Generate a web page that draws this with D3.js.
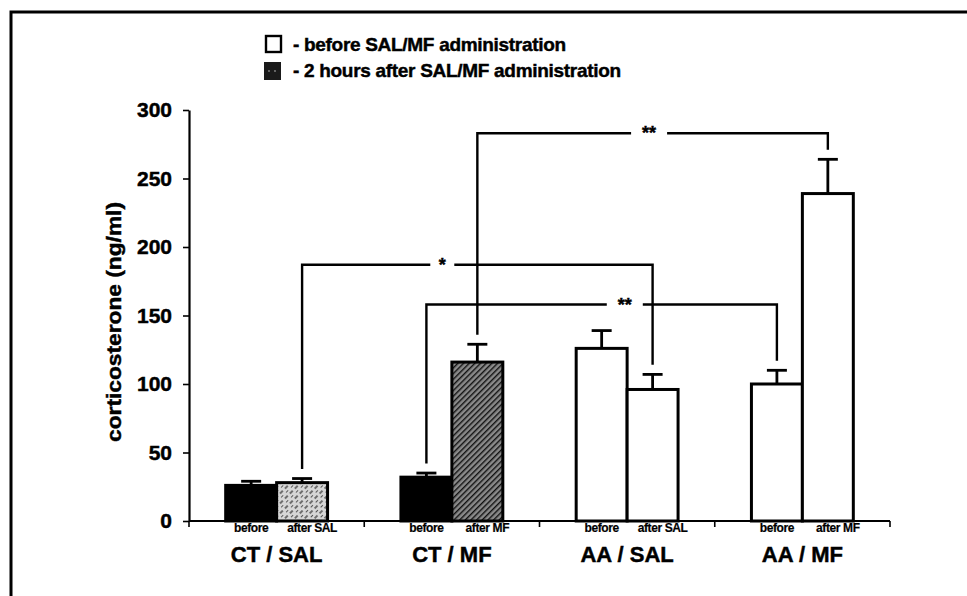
<!DOCTYPE html>
<html>
<head>
<meta charset="utf-8">
<script src="https://cdn.jsdelivr.net/npm/d3@7"></script>
<style>
body { margin: 0; background: #fff; }
svg { display: block; font-family: 'Liberation Sans', Arial, sans-serif; font-weight: bold; }
svg text { stroke: #000; stroke-width: 0.45px; }
</style>
</head>
<body>
<script>
// data
const GROUPS = ['CT / SAL', 'CT / MF', 'AA / SAL', 'AA / MF'];
const TIMES = ['before', 'after'];
const TIME_LABELS = [['before', 'after SAL'], ['before', 'after MF'], ['before', 'after SAL'], ['before', 'after MF']];
const BEFORE = [26, 32, 126, 100];
const BEFORE_ERR = [3, 3, 13, 10];
const AFTER = [28, 116, 96, 239];
const AFTER_ERR = [3, 13, 11, 25];
const Y_TICKS = [0, 50, 100, 150, 200, 250, 300];
const LEGEND = ['- before SAL/MF administration', '- 2 hours after SAL/MF administration'];
// significance comparisons: [group index, time] -> [group index, time], bracket height, mark
const BRACKETS = [
    {from: [0, 'after'], to: [2, 'after'], level: 187, label: '*'},
    {from: [1, 'before'], to: [3, 'before'], level: 158, label: '**'},
    {from: [1, 'after'], to: [3, 'after'], level: 283, label: '**'}
];
const MARK_AT = [0.4, 0.566, 0.49];   // where the star sits along each bracket

const W = 967, H = 596;
const PLOT = {LEFT: 189, RIGHT: 890, TOP: 110, BOTTOM: 521};
const LEG_GAP = 7;   // bracket legs stop this far (ng/ml) above the error bar

// fills: group index -> [before, after]
const FILLS = [['#000', 'url(#stipple)'], ['#000', 'url(#hatch)'], ['#fff', '#fff'], ['#fff', '#fff']];

const rows = [];
GROUPS.forEach((g, i) => {
    rows.push({gi: i, group: g, time: 'before', value: BEFORE[i], err: BEFORE_ERR[i]});
    rows.push({gi: i, group: g, time: 'after', value: AFTER[i], err: AFTER_ERR[i]});
});

const svg = d3.select('body').append('svg')
    .attr('width', W)
    .attr('height', H);

// patterns
const defs = svg.append('defs');
const hatch = defs.append('pattern')
    .attr('id', 'hatch')
    .attr('patternUnits', 'userSpaceOnUse')
    .attr('width', 4).attr('height', 4)
    .attr('patternTransform', 'rotate(45)');
hatch.append('rect').attr('width', 4).attr('height', 4).attr('fill', '#8a8a8a');
hatch.append('line').attr('x1', 0).attr('y1', 0).attr('x2', 0).attr('y2', 4)
    .attr('stroke', '#111').attr('stroke-width', 2.8);

const stipple = defs.append('pattern')
    .attr('id', 'stipple')
    .attr('patternUnits', 'userSpaceOnUse')
    .attr('width', 7).attr('height', 7)
    .attr('patternTransform', 'rotate(45)');
stipple.append('rect').attr('width', 7).attr('height', 7).attr('fill', '#d6d6d6');
stipple.append('line').attr('x1', 1).attr('y1', 0).attr('x2', 1).attr('y2', 4)
    .attr('stroke', '#333').attr('stroke-width', 1.3);
stipple.append('line').attr('x1', 4.5).attr('y1', 3).attr('x2', 4.5).attr('y2', 6)
    .attr('stroke', '#555').attr('stroke-width', 1);

// frame
svg.append('rect')
    .attr('x', 11).attr('y', 12)
    .attr('width', 1000).attr('height', 700)
    .attr('fill', 'none')
    .attr('stroke', '#000')
    .attr('stroke-width', 3);

// scales
const x0 = d3.scaleBand()
    .domain(GROUPS)
    .range([PLOT.LEFT, PLOT.RIGHT]);

const x1 = d3.scaleBand()
    .domain(TIMES)
    .range([0, x0.bandwidth()])
    .paddingInner(0)
    .paddingOuter(0.72);

const y = d3.scaleLinear()
    .domain([0, 300])
    .range([PLOT.BOTTOM, PLOT.TOP]);

const barMid = (gi, t) => x0(GROUPS[gi]) + x1(t) + x1.bandwidth() / 2;

// y axis
const yAxis = svg.append('g')
    .attr('transform', 'translate(' + PLOT.LEFT + ',0)')
    .call(d3.axisLeft(y).tickValues(Y_TICKS).tickSize(6).tickSizeOuter(0).tickPadding(11));
yAxis.select('.domain').attr('stroke-width', 2.2);
yAxis.selectAll('.tick line').attr('stroke-width', 1.6);
yAxis.selectAll('.tick text')
    .attr('font-size', 21)
    .attr('font-weight', 'bold')
    .attr('font-family', "'Liberation Sans', Arial, sans-serif")
    .attr('fill', '#000');

svg.append('text')
    .attr('transform', 'translate(121,322) rotate(-90)')
    .attr('text-anchor', 'middle')
    .attr('font-size', 20)
    .attr('textLength', 240)
    .attr('lengthAdjust', 'spacingAndGlyphs')
    .text('corticosterone (ng/ml)');

// x axis: baseline plus ticks at group boundaries
svg.append('line')
    .attr('x1', PLOT.LEFT).attr('x2', PLOT.RIGHT)
    .attr('y1', y(0)).attr('y2', y(0))
    .attr('stroke', '#000').attr('stroke-width', 2.2);

const bounds = GROUPS.map(g => x0(g)).concat([x0.range()[1]]);
svg.append('g').selectAll('line')
    .data(bounds)
    .enter()
    .append('line')
    .attr('x1', d => d).attr('x2', d => d)
    .attr('y1', y(0)).attr('y2', y(0) + 6)
    .attr('stroke', '#000').attr('stroke-width', 1.6);

// bars
svg.append('g').selectAll('rect')
    .data(rows)
    .enter()
    .append('rect')
    .attr('x', d => x0(d.group) + x1(d.time))
    .attr('y', d => y(d.value))
    .attr('width', x1.bandwidth())
    .attr('height', d => y(0) - y(d.value))
    .attr('fill', d => FILLS[d.gi][TIMES.indexOf(d.time)])
    .attr('stroke', '#000')
    .attr('stroke-width', 3);

// error bars (upper only)
const errs = svg.append('g').attr('stroke', '#000').attr('stroke-width', 2.8);
errs.selectAll('line.stem')
    .data(rows)
    .enter()
    .append('line')
    .attr('class', 'stem')
    .attr('x1', d => barMid(d.gi, d.time)).attr('x2', d => barMid(d.gi, d.time))
    .attr('y1', d => y(d.value)).attr('y2', d => y(d.value + d.err));
errs.selectAll('line.cap')
    .data(rows)
    .enter()
    .append('line')
    .attr('class', 'cap')
    .attr('x1', d => barMid(d.gi, d.time) - 10).attr('x2', d => barMid(d.gi, d.time) + 10)
    .attr('y1', d => y(d.value + d.err)).attr('y2', d => y(d.value + d.err));

// bar sub-labels
svg.append('g').selectAll('text')
    .data(rows)
    .enter()
    .append('text')
    .attr('x', d => barMid(d.gi, d.time) + (d.time === 'after' ? 10 : 0))
    .attr('y', y(0) + 11)
    .attr('text-anchor', 'middle')
    .attr('font-size', 12)
    .attr('letter-spacing', -0.4)
    .style('stroke-width', '0.2px')
    .text(d => TIME_LABELS[d.gi][TIMES.indexOf(d.time)]);

// group labels
svg.append('g').selectAll('text')
    .data(GROUPS)
    .enter()
    .append('text')
    .attr('x', d => x0(d) + x0.bandwidth() / 2)
    .attr('y', 562)
    .attr('text-anchor', 'middle')
    .attr('font-size', 22)
    .text(d => d);

// significance brackets
const errTop = r => (r[1] === 'before' ? BEFORE[r[0]] + BEFORE_ERR[r[0]] : AFTER[r[0]] + AFTER_ERR[r[0]]);
const br = svg.append('g')
    .attr('fill', 'none')
    .attr('stroke', '#000')
    .attr('stroke-width', 2.4);

BRACKETS.forEach((b, i) => {
    const xa = barMid(b.from[0], b.from[1]);
    const xb = barMid(b.to[0], b.to[1]);
    const yl = y(b.level);
    const xm = xa + MARK_AT[i] * (xb - xa);
    const gap = b.label.length === 1 ? 12 : 18;
    br.append('path')
        .attr('d', 'M' + xa + ',' + y(errTop(b.from) + LEG_GAP) + 'V' + yl + 'H' + (xm - gap));
    br.append('path')
        .attr('d', 'M' + (xm + gap) + ',' + yl + 'H' + xb + 'V' + y(errTop(b.to) + LEG_GAP));
    svg.append('text')
        .attr('x', xm)
        .attr('y', yl + 6)
        .attr('text-anchor', 'middle')
        .attr('font-size', 18)
        .text(b.label);
});

// legend
const legend = svg.append('g');
legend.append('rect')
    .attr('x', 266).attr('y', 36)
    .attr('width', 15).attr('height', 16)
    .attr('fill', '#fff').attr('stroke', '#000').attr('stroke-width', 2.4);
legend.append('rect')
    .attr('x', 264).attr('y', 62)
    .attr('width', 17).attr('height', 18)
    .attr('fill', '#1a1a1a');
legend.selectAll('circle')
    .data([0, 1])
    .enter()
    .append('circle')
    .attr('cx', d => 269 + d * 6).attr('cy', 71)
    .attr('r', 0.9).attr('fill', '#888');
legend.selectAll('text')
    .data(LEGEND)
    .enter()
    .append('text')
    .attr('x', 293)
    .attr('y', (d, i) => 51 + i * 26)
    .attr('font-size', 19)
    .attr('letter-spacing', -0.3)
    .text(d => d);
</script>
</body>
</html>
